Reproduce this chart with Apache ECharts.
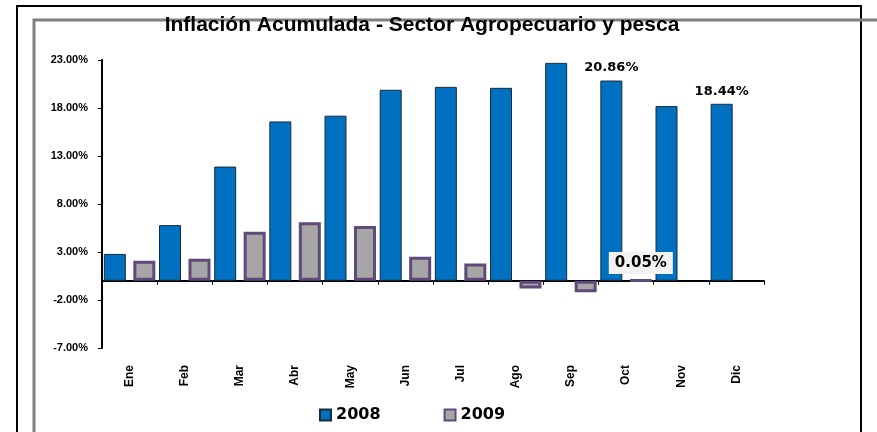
<!DOCTYPE html>
<html>
<head>
<meta charset="utf-8">
<script src="https://cdn.jsdelivr.net/npm/echarts@6/dist/echarts.min.js"></script>
<style>
  html, body { margin: 0; padding: 0; background: #fff; }
  #chart { width: 877px; height: 432px; }
</style>
</head>
<body>
<div id="chart"></div>
<script>
// datos
var meses = ['Ene', 'Feb', 'Mar', 'Abr', 'May', 'Jun', 'Jul', 'Ago', 'Sep', 'Oct', 'Nov', 'Dic'];
var v2008 = [2.8, 5.8, 11.9, 16.6, 17.2, 19.9, 20.2, 20.1, 22.7, 20.86, 18.2, 18.44];
var v2009 = [2.1, 2.3, 5.1, 6.1, 5.7, 2.5, 1.8, -0.8, -1.2, 0.05];
var etiquetas2008 = ['Oct', 'Dic'];
var etiquetas2009 = ['Oct'];

var myChart = echarts.init(document.getElementById('chart'));

function pct(v) {
    return v.toFixed(2) + '%';
}

// solo algunas barras llevan etiqueta
function conEtiqueta(valores, lista) {
    return valores.map(function (v, i) {
        return {value: v, label: {show: lista.indexOf(meses[i]) >= 0}};
    });
}

option = {
    animation: false,
    backgroundColor: '#fff',
    graphic: [
        {
            type: 'rect', z: 0,
            shape: {x: 17, y: 6, width: 844, height: 440},
            style: {fill: 'none', stroke: '#000', lineWidth: 2}
        },
        {
            type: 'polyline', z: 0,
            shape: {points: [[880, 20], [34, 20], [34, 440]]},
            style: {fill: 'none', stroke: '#808080', lineWidth: 3}
        },
        {
            type: 'text', z: 10,
            x: 422, y: 25,
            style: {
                text: 'Inflación Acumulada - Sector Agropecuario y pesca',
                fontFamily: 'Liberation Sans, Arial',
                fontWeight: 'bold',
                fontSize: 21,
                fill: '#000',
                align: 'center',
                verticalAlign: 'middle'
            }
        }
    ],
    legend: {
        left: 314,
        top: 402,
        itemWidth: 11,
        itemHeight: 11,
        itemGap: 63,
        icon: 'rect',
        textStyle: {
            fontFamily: 'DejaVu Sans',
            fontWeight: 'bold',
            fontSize: 16,
            color: '#000'
        },
        data: ['2008', '2009']
    },
    grid: {
        left: 102,
        right: 113,
        top: 60,
        bottom: 84
    },
    xAxis: [
        {
            type: 'category',
            data: meses,
            position: 'bottom',
            axisLine: {onZero: true, lineStyle: {color: '#000', width: 2}},
            axisTick: {show: true, length: 4, lineStyle: {color: '#000', width: 1}},
            axisLabel: {show: false}
        },
        {
            type: 'category',
            data: meses,
            position: 'bottom',
            axisLine: {show: false, onZero: false},
            axisTick: {show: false},
            axisLabel: {
                rotate: 90,
                margin: 17,
                fontFamily: 'Liberation Sans, Arial',
                fontWeight: 'bold',
                fontSize: 12,
                color: '#000'
            }
        }
    ],
    yAxis: {
        type: 'value',
        min: -7,
        max: 23,
        interval: 5,
        axisLine: {show: true, lineStyle: {color: '#000', width: 2}},
        axisTick: {show: true, length: 4, lineStyle: {color: '#000'}},
        splitLine: {show: false},
        axisLabel: {
            margin: 14,
            fontFamily: 'Liberation Sans, Arial',
            fontWeight: 'bold',
            fontSize: 11,
            color: '#000',
            formatter: pct
        }
    },
    series: [
        {
            name: '2008',
            type: 'bar',
            xAxisIndex: 0,
            barWidth: 22,
            barGap: '34%',
            itemStyle: {color: '#0070C0', borderColor: '#1b2a3a', borderWidth: 1},
            label: {
                show: false,
                position: 'top',
                distance: 6,
                fontFamily: 'DejaVu Sans',
                fontWeight: 'bold',
                fontSize: 13,
                color: '#000',
                formatter: function (p) { return pct(p.value); }
            },
            data: conEtiqueta(v2008, etiquetas2008)
        },
        {
            name: '2009',
            type: 'bar',
            xAxisIndex: 0,
            barWidth: 22,
            itemStyle: {color: '#A6A6A6', borderColor: '#604A7B', borderWidth: 3},
            label: {
                show: false,
                position: 'top',
                distance: 5,
                fontFamily: 'DejaVu Sans',
                fontWeight: 'bold',
                fontSize: 15,
                color: '#000',
                backgroundColor: '#f2f2f2',
                padding: [4, 6, 3, 6],
                formatter: function (p) { return pct(p.value); }
            },
            data: conEtiqueta(v2009, etiquetas2009)
        }
    ]
};
myChart.setOption(option);
</script>
</body>
</html>
